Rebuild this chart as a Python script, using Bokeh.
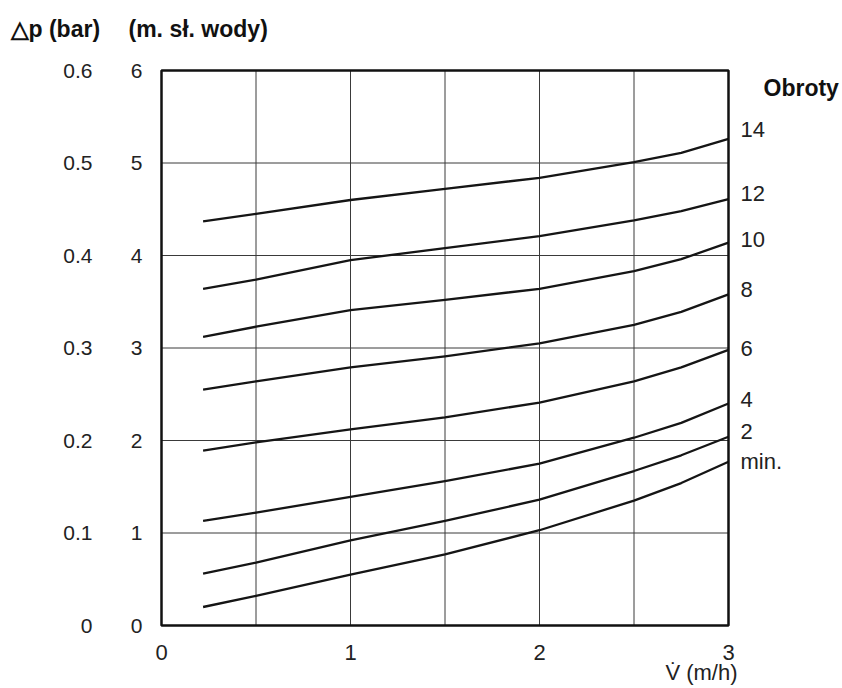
from bokeh.plotting import figure
from bokeh.models import LinearAxis, FixedTicker, Label, Range1d
from bokeh.embed import file_html
from bokeh.resources import INLINE

# ---- data ----
flow = [0.22, 0.5, 1.0, 1.5, 2.0, 2.5, 2.75, 3.0]          # V̇ (m/h)
speed_names = ["14", "12", "10", "8", "6", "4", "2", "min."]
head_14 = [4.37, 4.45, 4.60, 4.72, 4.84, 5.01, 5.11, 5.26]
head_12 = [3.64, 3.74, 3.95, 4.08, 4.21, 4.38, 4.48, 4.61]
head_10 = [3.12, 3.23, 3.41, 3.52, 3.64, 3.83, 3.96, 4.14]
head_8 = [2.55, 2.64, 2.79, 2.91, 3.05, 3.25, 3.39, 3.58]
head_6 = [1.89, 1.98, 2.12, 2.25, 2.41, 2.64, 2.79, 2.98]
head_4 = [1.13, 1.22, 1.39, 1.56, 1.75, 2.03, 2.19, 2.40]
head_2 = [0.56, 0.68, 0.92, 1.13, 1.36, 1.67, 1.84, 2.04]
head_min = [0.20, 0.32, 0.55, 0.77, 1.03, 1.35, 1.54, 1.77]
curves = [head_14, head_12, head_10, head_8, head_6, head_4, head_2, head_min]

m_ticks = [0, 1, 2, 3, 4, 5, 6]
bar_labels = ["0", "0.1", "0.2", "0.3", "0.4", "0.5", "0.6"]
x_ticks = [0, 1, 2, 3]
x_grid = [0.5, 1.0, 1.5, 2.0, 2.5]
y_grid = [1, 2, 3, 4, 5]

# ---- layout (pixels) ----
W, H = 840, 686
PX_L, PX_R, PX_T, PX_B = 161, 728, 70, 625        # plot box in canvas pixels
label_nudge = [9, 6, 3, 5, 1, 4, 5, 0]             # right-label vertical nudges (px)

x0, x1 = x_ticks[0], x_ticks[-1]
y0, y1 = m_ticks[0], m_ticks[-1]
sx = (PX_R - PX_L) / (x1 - x0)
sy = (PX_B - PX_T) / (y1 - y0)
x_range = Range1d(x0 - PX_L / sx, x1 + (W - PX_R) / sx)
y_range = Range1d(y0 - (H - PX_B) / sy, y1 + PX_T / sy)

FONT = "Liberation Sans"
TXT = "#222222"

p = figure(width=W, height=H, x_range=x_range, y_range=y_range,
           output_backend="svg", toolbar_location=None,
           x_axis_location=None, y_axis_location=None, min_border=0)
p.background_fill_color = "white"
p.border_fill_color = "white"
p.outline_line_color = None
for g in p.grid:
    g.visible = False


def plain_axis(**kw):
    ax = LinearAxis(**kw)
    ax.axis_line_color = None
    ax.major_tick_line_color = None
    ax.minor_tick_line_color = None
    ax.major_label_text_font = FONT
    ax.major_label_text_color = TXT
    return ax


xaxis = plain_axis(fixed_location=y0, ticker=FixedTicker(ticks=x_ticks))
xaxis.major_label_text_font_size = "22px"
xaxis.major_label_standoff = 13
p.add_layout(xaxis, "below")

m_axis = plain_axis(fixed_location=x0, ticker=FixedTicker(ticks=m_ticks))
m_axis.major_label_text_font_size = "21px"
m_axis.major_label_standoff = 13
p.add_layout(m_axis, "left")

bar_axis = plain_axis(fixed_location=x0, ticker=FixedTicker(ticks=m_ticks),
                      major_label_overrides={t: s for t, s in zip(m_ticks, bar_labels)})
bar_axis.major_label_text_font_size = "21px"
bar_axis.major_label_standoff = 63
p.add_layout(bar_axis, "left")

# grid lines inside the plot box
p.segment(x0=x_grid, y0=[y0] * len(x_grid), x1=x_grid, y1=[y1] * len(x_grid),
          line_color="#3a3a3a", line_width=1)
p.segment(x0=[x0] * len(y_grid), y0=y_grid, x1=[x1] * len(y_grid), y1=y_grid,
          line_color="#3a3a3a", line_width=1)

# curves
for ys in curves:
    p.line(flow, ys, line_color="#151515", line_width=2.3, line_join="round")

# plot box
p.quad(left=[x0], right=[x1], bottom=[y0], top=[y1], fill_color=None,
       line_color="#111111", line_width=2.5)

# right-side labels
for name, ys, nudge in zip(speed_names, curves, label_nudge):
    p.add_layout(Label(x=flow[-1], y=ys[-1], x_offset=12, y_offset=nudge,
                       text=name, text_font=FONT, text_font_size="22px",
                       text_color=TXT, text_baseline="middle", text_align="left"))

p.add_layout(Label(x=x1, y=y1, x_offset=35, y_offset=-17, text="Obroty",
                   text_font=FONT, text_font_style="bold", text_font_size="23px",
                   text_color="#111111", text_baseline="middle", text_align="left"))

p.add_layout(Label(x=x0, y=y1, x_offset=-151, y_offset=42, text="\u25b3p (bar)",
                   text_font=FONT, text_font_style="bold", text_font_size="23px",
                   text_color="#111111", text_baseline="middle", text_align="left"))
p.add_layout(Label(x=x0, y=y1, x_offset=-33, y_offset=42, text="(m. s\u0142. wody)",
                   text_font=FONT, text_font_style="bold", text_font_size="23px",
                   text_color="#111111", text_baseline="middle", text_align="left"))

p.add_layout(Label(x=x1, y=y0, x_offset=9, y_offset=-47, text="V\u0307 (m/h)",
                   text_font=FONT, text_font_size="22px",
                   text_color=TXT, text_baseline="middle", text_align="right"))

open("out.html", "w").write(file_html(p, INLINE))
